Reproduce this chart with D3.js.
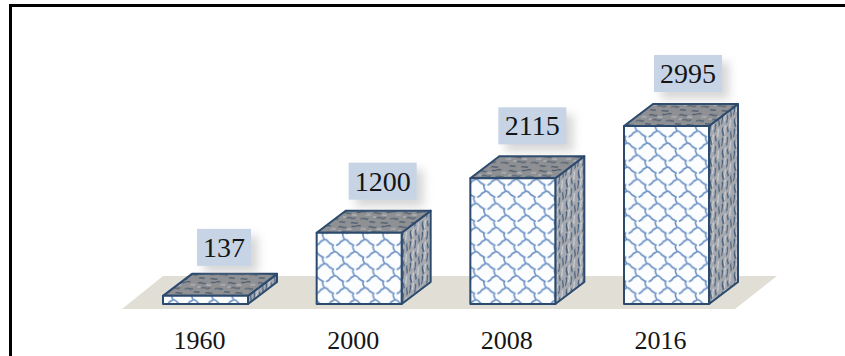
<!DOCTYPE html>
<html>
<head>
<meta charset="utf-8">
<script src="https://cdn.jsdelivr.net/npm/d3@7/dist/d3.min.js"></script>
<style>
html,body{margin:0;padding:0;background:#fff;overflow:hidden}
svg{display:block}
text{font-family:"Liberation Serif",serif;fill:#151515}
</style>
</head>
<body>
<svg id="chart" width="845" height="356"></svg>
<script>
const years = ["1960", "2000", "2008", "2016"];
const counts = [137, 1200, 2115, 2995];
// sideways and upward shift of each value tag relative to its box
const tagShift = [18.5, 23.5, 19.5, 21.5];
const tagLift = [67, 70, 71, 71];

const baseY = 304, depthX = 29, depthY = 22, boxW = 85;
const svg = d3.select("#chart");

const xPos = d3.scalePoint().domain(years).range([163, 624]);
const y = d3.scaleLinear().domain([0, 2995]).range([baseY, 126]);

const defs = svg.append("defs");

// scalloped front texture: staggered scales with a wobbling edge
const front = defs.append("pattern").attr("id", "scales").attr("patternUnits", "userSpaceOnUse")
  .attr("width", 36).attr("height", 36).attr("patternTransform", "translate(3 4) scale(0.56 0.67)");
front.append("rect").attr("width", 36).attr("height", 36).attr("fill", "#fbfdfe");
const scale = (a, b) => `M${a} ${b}c-4 3 1 6 1 9c0 3 -6 2 -7 5c-1 2 -4 3 -6 4 M${a + 1} ${b + 9}c3 1 6 1 8 4c1 2 5 3 8 5`;
front.selectAll("path").data([[14, 0], [32, 18], [-4, 18], [14, 36], [32, -18]]).join("path")
  .attr("d", d => scale(d[0], d[1]))
  .attr("fill", "none").attr("stroke", "#7094c6").attr("stroke-width", 2.8).attr("stroke-linecap", "round");

// mottled lid texture, sheared along the box depth
const lid = defs.append("pattern").attr("id", "lid").attr("patternUnits", "userSpaceOnUse")
  .attr("width", 30).attr("height", 14).attr("patternTransform", "skewX(-20)");
lid.append("rect").attr("width", 30).attr("height", 14).attr("fill", "#8e9093");
lid.append("path").attr("d", "M1 3c3 -2 5 2 8 0M14 2c3 2 5 -2 9 0M6 8c3 -2 5 2 9 0M20 9c3 -2 5 1 8 0M0 12c2 -1 4 1 6 0M12 13c3 -1 4 1 7 0")
  .attr("fill", "none").attr("stroke", "#46586c").attr("stroke-width", 1.1);
lid.append("path").attr("d", "M10 5c2 -1 3 1 5 0M24 5c2 -1 3 0 5 0M2 7c1 0 2 0 3 0")
  .attr("fill", "none").attr("stroke", "#c2c5c8").attr("stroke-width", 1);

// streaked side texture, sheared to follow the receding face
const side = defs.append("pattern").attr("id", "side").attr("patternUnits", "userSpaceOnUse")
  .attr("width", 12).attr("height", 22).attr("patternTransform", "skewY(-37)");
side.append("rect").attr("width", 12).attr("height", 22).attr("fill", "#a5a9af");
side.append("path").attr("d", "M2 0c2 3 -1 5 0 8M3 12c-2 3 1 6 0 9M7 3c2 3 -1 5 0 8M8 15c-2 2 1 4 0 6M11 0c-1 3 1 5 0 8")
  .attr("fill", "none").attr("stroke", "#3f5673").attr("stroke-width", 1.1);
side.append("path").attr("d", "M5 0c1 3 -1 5 0 7M5 12c1 3 -1 5 0 8M10 10c1 3 -1 5 0 8")
  .attr("fill", "none").attr("stroke", "#dfe2e6").attr("stroke-width", 0.9);

// soft shadow behind value labels
const blur = defs.append("filter").attr("id", "soft").attr("x", "-40%").attr("y", "-40%").attr("width", "180%").attr("height", "180%");
blur.append("feGaussianBlur").attr("stdDeviation", 5);

// frame: top and left rules only
svg.append("path").attr("d", "M10.5 356V5.5H845").attr("fill", "none").attr("stroke", "#000").attr("stroke-width", 3);

// floor
svg.append("polygon")
  .attr("points", [[122, 309], [163, 276], [777, 276], [735, 309]].join(" "))
  .attr("fill", "#e1ded6");

const bars = svg.selectAll("g.bar").data(years.map((year, i) => ({ year, value: counts[i], i }))).join("g").attr("class", "bar");
const outline = { stroke: "#2c4a6e", "stroke-width": 2, "stroke-linejoin": "round" };
const apply = (sel, o) => { Object.entries(o).forEach(([k, v]) => sel.attr(k, v)); return sel; };

bars.each(function (d) {
  const g = d3.select(this);
  const x0 = xPos(d.year), x1 = x0 + boxW, top = y(d.value);
  const poly = pts => pts.join(" ");
  apply(g.append("polygon").attr("points", poly([[x1, top], [x1 + depthX, top - depthY], [x1 + depthX, baseY - depthY], [x1, baseY]])).attr("fill", "url(#side)"), outline);
  apply(g.append("polygon").attr("points", poly([[x0, top], [x0 + depthX, top - depthY], [x1 + depthX, top - depthY], [x1, top]])).attr("fill", "url(#lid)"), outline);
  apply(g.append("rect").attr("x", x0).attr("y", top).attr("width", boxW).attr("height", baseY - top).attr("fill", "url(#scales)"), outline);

  // value tag
  const cx = x0 + boxW / 2 + tagShift[d.i], tagH = 37, tagW = d.value < 1000 ? 54 : 68;
  const tagY = top - tagLift[d.i];
  g.append("rect").attr("x", cx - tagW / 2 + 7).attr("y", tagY + 7).attr("width", tagW).attr("height", tagH)
    .attr("fill", "#9a9a9a").attr("opacity", 0.4).attr("filter", "url(#soft)");
  g.append("rect").attr("x", cx - tagW / 2).attr("y", tagY).attr("width", tagW).attr("height", tagH).attr("fill", "#c6d4e6");
  g.append("text").attr("x", cx).attr("y", tagY + 28).attr("text-anchor", "middle").attr("font-size", 28).text(d.value);

  // category label
  g.append("text").attr("x", x0 + boxW / 2 - 6).attr("y", 349).attr("text-anchor", "middle").attr("font-size", 26).text(d.year);
});
</script>
</body>
</html>
